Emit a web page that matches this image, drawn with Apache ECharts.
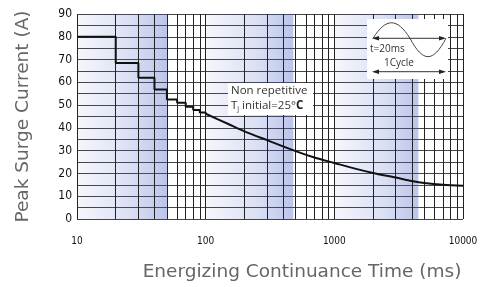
<!DOCTYPE html>
<html>
<head>
<meta charset="utf-8">
<script src="https://cdn.jsdelivr.net/npm/echarts@6/dist/echarts.min.js"></script>
<style>
html, body { margin: 0; padding: 0; background: #fff; }
#surge { width: 484px; height: 287px; }
</style>
</head>
<body>
<div id="surge"></div>
<script>
// stepped part (ms -> A)
var stepTimes = [10, 20, 30, 40, 50, 60, 70, 80, 90, 100];
var stepValues = [80, 68.5, 62, 56.8, 52.5, 51, 49.3, 47.8, 46.8, 46.2];
// smooth part
var curveTimes = [100, 150, 200, 300, 500, 700, 1000, 1500, 2000, 3000, 4000, 5000, 7000, 10000];
var curveValues = [46.2, 41.7, 38.5, 34.6, 29.8, 27, 24.6, 21.9, 20.2, 18.2, 16.7, 15.8, 15, 14.6];
// shaded bands [from, to]
var bands = [[10, 50], [100, 480], [1000, 4500]];
var xTicks = ['10', '100', '1000', '10000'];

drawSurge();

function drawSurge() {
	var chart = echarts.init(document.getElementById('surge'));

	var stepData = stepTimes.map(function(t, i) { return [t, stepValues[i]]; });
	var curveData = curveTimes.map(function(t, i) { return [t, curveValues[i]]; });

	// minor log gridlines 2..9 of each decade
	var minorLines = [];
	[10, 100, 1000].forEach(function(d) {
		for (var k = 2; k <= 9; k++) minorLines.push({ xAxis: d * k });
	});

	var bandAreas = bands.map(function(b) {
		return [{
			xAxis: b[0],
			itemStyle: {
				color: new echarts.graphic.LinearGradient(0, 0, 1, 0, [
					{ offset: 0, color: 'rgba(70,95,195,0.05)' },
					{ offset: 0.6, color: 'rgba(70,95,195,0.2)' },
					{ offset: 1, color: 'rgba(70,95,195,0.36)' }
				])
			}
		}, { xAxis: b[1] }];
	});

	var option = {
		backgroundColor: '#fff',
		animation: false,
		grid: { left: 77, right: 21, top: 14, bottom: 65 },
		xAxis: {
			type: 'log',
			logBase: 10,
			min: 10,
			max: 10000,
			axisLine: { show: false },
			axisTick: { show: false },
			axisLabel: {
				margin: 17,
				fontSize: 10,
				fontFamily: 'DejaVu Sans Condensed',
				color: '#111',
				formatter: function(v) { return xTicks.indexOf(String(v)) >= 0 ? String(v) : ''; }
			},
			splitLine: { show: true, lineStyle: { color: '#222', width: 1 } },
			name: 'Energizing Continuance Time (ms)',
			nameLocation: 'middle',
			nameGap: 44,
			nameTextStyle: {
				fontSize: 18.5,
				fontFamily: 'DejaVu Sans',
				color: '#666',
				padding: [0, 0, 0, 64]
			}
		},
		yAxis: {
			type: 'value',
			min: 0,
			max: 90,
			interval: 10,
			axisLine: { show: false },
			axisTick: { show: false },
			axisLabel: {
				margin: 5,
				fontSize: 12,
				fontFamily: 'DejaVu Sans Condensed',
				color: '#111'
			},
			splitLine: { show: true, lineStyle: { color: '#444', width: 1 } },
			minorTick: { show: false, splitNumber: 2 },
			minorSplitLine: { show: true, lineStyle: { color: '#444', width: 1 } },
			name: 'Peak Surge Current (A)',
			nameLocation: 'middle',
			nameGap: 44,
			nameTextStyle: {
				fontSize: 18.5,
				fontFamily: 'DejaVu Sans',
				color: '#666'
			}
		},
		series: [{
			type: 'line',
			data: [],
			silent: true,
			z: 1,
			markArea: { silent: true, data: bandAreas },
			markLine: {
				silent: true,
				symbol: 'none',
				label: { show: false },
				lineStyle: { color: '#222', width: 1, type: 'solid' },
				data: minorLines
			}
		}, {
			type: 'line',
			step: 'end',
			data: stepData,
			showSymbol: false,
			z: 5,
			lineStyle: { color: '#111', width: 2 }
		}, {
			type: 'line',
			smooth: 0.3,
			data: curveData,
			showSymbol: false,
			z: 5,
			lineStyle: { color: '#111', width: 2 }
		}],
		graphic: [{
			type: 'rect',
			shape: { x: 228, y: 83, width: 85, height: 32 },
			style: { fill: '#fff' },
			z: 10
		}, {
			type: 'text',
			x: 231, y: 85,
			z: 11,
			style: {
				text: 'Non repetitive',
				font: '11.5px "Open Sans"',
				fill: '#333'
			}
		}, {
			type: 'text',
			x: 231, y: 100,
			z: 11,
			style: {
				text: '{a|T}{s|j}{a| initial=25°}{b|C}',
				rich: {
					a: { font: '11.5px "Open Sans"', fill: '#333' },
					s: { font: '7px "Open Sans"', fill: '#333', padding: [5, 0, 0, 0] },
					b: { font: 'bold 11.5px "Open Sans"', fill: '#222' }
				}
			}
		}, {
			type: 'rect', z: 10,
			shape: { x: 367, y: 19, width: 81, height: 60 },
			style: { fill: '#fff' }
		}, {
			type: 'bezierCurve', z: 11,
			shape: { x1: 373, y1: 38.3, cpx1: 386, cpy1: 17.6, cpx2: 397, cpy2: 17.6, x2: 410, y2: 38.3 },
			style: { fill: 'none', stroke: '#444', lineWidth: 1 }
		}, {
			type: 'bezierCurve', z: 11,
			shape: { x1: 410, y1: 38.3, cpx1: 423, cpy1: 62.8, cpx2: 433, cpy2: 62.8, x2: 446, y2: 38.3 },
			style: { fill: 'none', stroke: '#444', lineWidth: 1 }
		}, {
			type: 'line', z: 11,
			shape: { x1: 374, y1: 38.3, x2: 444, y2: 38.3 },
			style: { stroke: '#333', lineWidth: 1 }
		}, {
			type: 'polygon', z: 11,
			shape: { points: [[446, 38.3], [439, 36], [439, 40.6]] },
			style: { fill: '#222' }
		}, {
			type: 'polygon', z: 11,
			shape: { points: [[372, 38.3], [379, 36], [379, 40.6]] },
			style: { fill: '#222' }
		}, {
			type: 'text', z: 11,
			x: 370, y: 44,
			style: { text: 't=20ms', font: '10px "Open Sans"', fill: '#333' }
		}, {
			type: 'text', z: 11,
			x: 384, y: 58,
			style: { text: '1Cycle', font: '10px "Open Sans"', fill: '#333' }
		}, {
			type: 'line', z: 11,
			shape: { x1: 374, y1: 71.7, x2: 444, y2: 71.7 },
			style: { stroke: '#333', lineWidth: 1 }
		}, {
			type: 'polygon', z: 11,
			shape: { points: [[446, 71.7], [439, 69.4], [439, 74]] },
			style: { fill: '#222' }
		}, {
			type: 'polygon', z: 11,
			shape: { points: [[372, 71.7], [379, 69.4], [379, 74]] },
			style: { fill: '#222' }
		}]
	};
	chart.setOption(option);
}
</script>
</body>
</html>
